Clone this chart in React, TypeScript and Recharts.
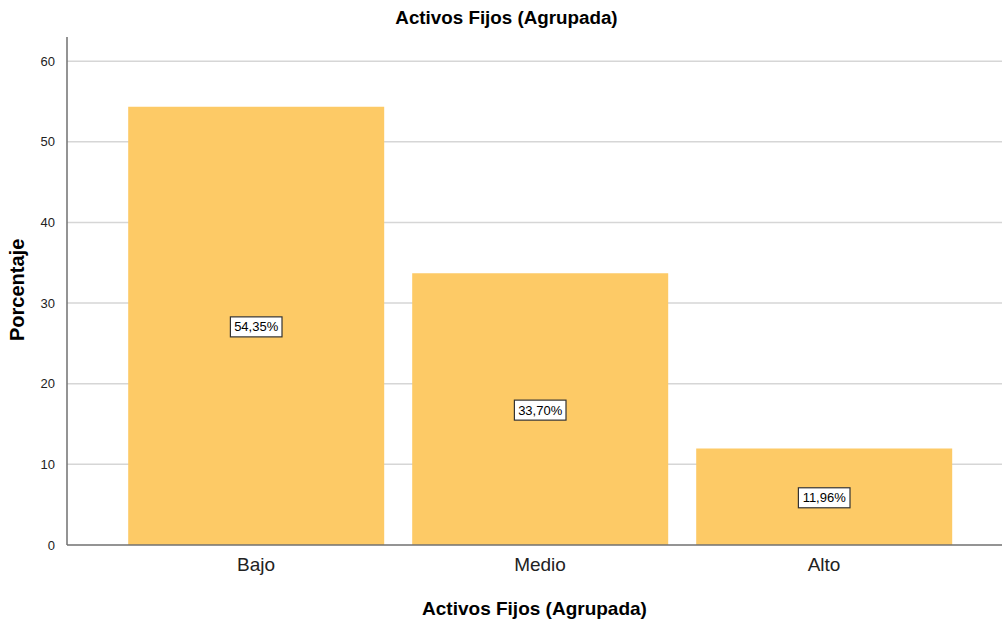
import { BarChart, Bar, XAxis, YAxis, CartesianGrid, LabelList } from "recharts";

const categories = ["Bajo", "Medio", "Alto"];
const percentages = [54.35, 33.7, 11.96];
const percentLabels = ["54,35%", "33,70%", "11,96%"];
const yTicks = [0, 10, 20, 30, 40, 50, 60];

const chartData = categories.map((name, i) => ({ name, value: percentages[i], label: percentLabels[i] }));

const FONT = "'Liberation Sans', Arial, sans-serif";

function BoxLabel(props: any) {
  const { x, y, width, height, index } = props;
  const text = percentLabels[index];
  const cx = x + width / 2;
  const cy = y + height / 2;
  const w = text.length * 7.6 + 6;
  const h = 20;
  return (
    <g>
      <rect x={cx - w / 2} y={cy - h / 2 + 1} width={w} height={h} fill="#fff" stroke="#333" strokeWidth={1.2} />
      <text x={cx} y={cy + 5.5} textAnchor="middle" fontSize={13} fontFamily={FONT} fill="#000">
        {text}
      </text>
    </g>
  );
}

export default function App() {
  return (
    <div style={{ position: "absolute", left: 0, top: 0, width: 1003, height: 621, background: "#fff" }}>
      <div
        style={{
          position: "absolute",
          top: 7,
          left: 0,
          width: 1013,
          textAlign: "center",
          fontFamily: FONT,
          fontWeight: "bold",
          fontSize: 18.8,
        }}
      >
        Activos Fijos (Agrupada)
      </div>
      <BarChart width={1003} height={621} data={chartData} margin={{ top: 37, right: 1, left: 0, bottom: 0 }} barCategoryGap="5%">
        <CartesianGrid vertical={false} stroke="#d6d6d6" strokeWidth={1.5} horizontalValues={[10, 20, 30, 40, 50, 60]} />
        <XAxis
          dataKey="name"
          height={76}
          padding={{ left: 47, right: 36 }}
          tickLine={false}
          axisLine={{ stroke: "#707070", strokeWidth: 1.5 }}
          tick={{ fontSize: 19, fontFamily: FONT, fill: "#222" }}
          tickMargin={7}
          label={{ value: "Activos Fijos (Agrupada)", position: "insideBottom", offset: 6, fontSize: 19, fontWeight: "bold", fontFamily: FONT, fill: "#000" }}
        />
        <YAxis
          width={67}
          domain={[0, 63]}
          ticks={yTicks}
          interval={0}
          tickLine={false}
          axisLine={{ stroke: "#707070", strokeWidth: 1.5 }}
          tick={{ fontSize: 13, fontFamily: FONT, fill: "#222" }}
          tickMargin={6}
          label={{ value: "Porcentaje", angle: -90, position: "insideLeft", offset: 17, fontSize: 20, fontWeight: "bold", fontFamily: FONT, fill: "#000", dy: 50 }}
        />
        <Bar dataKey="value" fill="#fdca66" isAnimationActive={false}>
          <LabelList dataKey="label" content={BoxLabel} />
        </Bar>
      </BarChart>
    </div>
  );
}
